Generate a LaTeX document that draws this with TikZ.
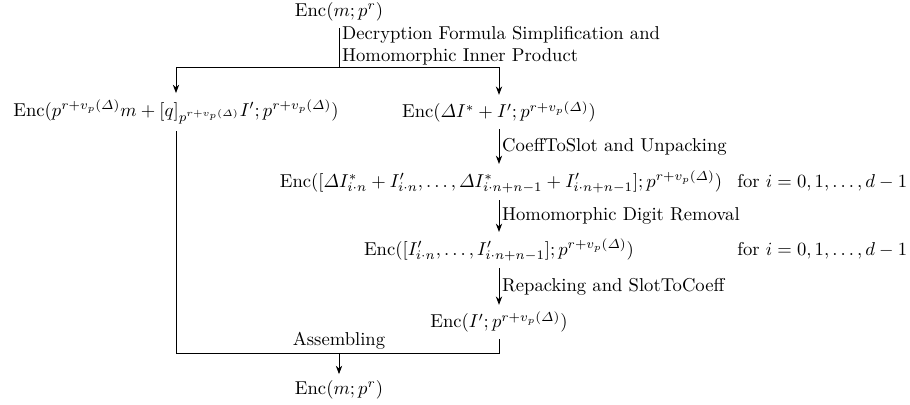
\documentclass[tikz,border=0pt]{standalone}
\usepackage{amsmath}
\usetikzlibrary{arrows.meta}
\begin{document}
\begin{tikzpicture}[x=0.537pt,y=-0.537pt,
  lbl/.style={inner sep=1.5pt},
  arr/.style={-{Stealth[length=4.5pt,width=3.4pt]}},
  ln/.style={line width=0.45pt}]
\useasboundingbox (0,0) rectangle (910,405);
\node (top) at (339,12) {$\mathrm{Enc}(m;p^r)$};
\node (L) at (176,112) {$\mathrm{Enc}(p^{r+v_p(\varDelta)}m+[q]_{p^{r+v_p(\varDelta)}}I';p^{r+v_p(\varDelta)})$};
\node (R) at (499,112) {$\mathrm{Enc}(\varDelta I^*+I';p^{r+v_p(\varDelta)})$};
\node (M3) at (501,182) {$\mathrm{Enc}([\varDelta I^*_{i\cdot n}+I'_{i\cdot n},\dots,\varDelta I^*_{i\cdot n+n-1}+I'_{i\cdot n+n-1}];p^{r+v_p(\varDelta)})$};
\node (M4) at (499,250) {$\mathrm{Enc}([I'_{i\cdot n},\dots,I'_{i\cdot n+n-1}];p^{r+v_p(\varDelta)})$};
\node (M5) at (499,322) {$\mathrm{Enc}(I';p^{r+v_p(\varDelta)})$};
\node (bot) at (339,390) {$\mathrm{Enc}(m;p^r)$};
\coordinate (xf) at (737,0);
\node[anchor=base west,inner sep=0pt] (f3) at (M3.base -| xf) {for $i=0,1,\dots,d-1$};
\node[anchor=base west,inner sep=0pt] (f4) at (M4.base -| xf) {for $i=0,1,\dots,d-1$};
\coordinate (j1) at (339,67);
\coordinate (j2) at (339,353);
\draw[ln] (top.south) -- node[right,lbl,align=left,yshift=1pt] {Decryption Formula Simplification and\\Homomorphic Inner Product} (j1);
\draw[ln,arr] (j1) -| (L.north);
\draw[ln,arr] (j1) -| (R.north);
\draw[ln,arr] (R.south) -- node[right,lbl] {CoeffToSlot and Unpacking} (R.south |- M3.north);
\draw[ln,arr] (R.south |- M3.south) -- node[right,lbl] {Homomorphic Digit Removal} (R.south |- M4.north);
\draw[ln,arr] (R.south |- M4.south) -- node[right,lbl] {Repacking and SlotToCoeff} (M5.north);
\draw[ln] (M5.south) |- (L.south |- j2) -- (L.south);
\node[above,lbl] at (j2) {Assembling};
\draw[ln,arr] (j2) -- (bot.north);
\end{tikzpicture}
\end{document}
